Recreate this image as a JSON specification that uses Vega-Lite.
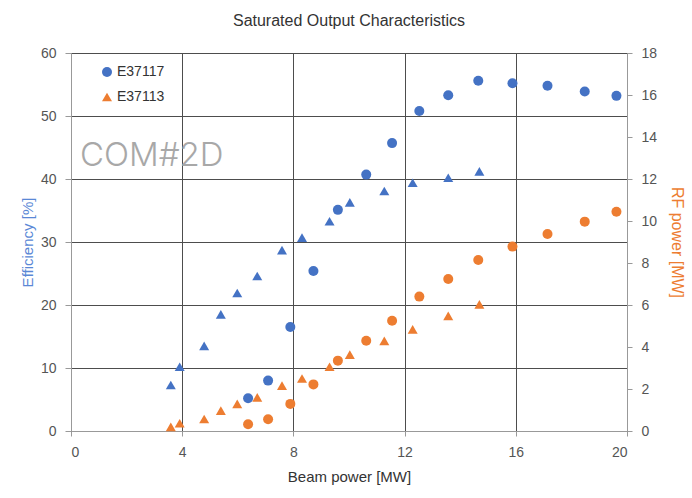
{
  "$schema": "https://vega.github.io/schema/vega-lite/v6.json",
  "width": 556,
  "height": 378,
  "autosize": {"type": "none"},
  "padding": {"left": 71, "top": 53, "right": 65, "bottom": 67},
  "background": "white",
  "title": {"text": "Saturated Output Characteristics", "fontSize": 16, "font": "Liberation Sans", "fontWeight": "normal", "color": "#333333", "offset": 17},
  "config": {
    "view": {"stroke": null},
    "axis": {
      "labelFont": "Liberation Sans",
      "titleFont": "Liberation Sans",
      "labelFontSize": 14,
      "labelColor": "#555555",
      "titleFontWeight": "normal",
      "titleFontSize": 15,
      "gridColor": "#4d4d4d",
      "gridOpacity": 1,
      "gridWidth": 1,
      "domainColor": "#999999",
      "tickColor": "#999999",
      "tickSize": 5,
      "labelPadding": 9
    },
    "legend": {
      "labelFont": "Liberation Sans",
      "labelFontSize": 14,
      "labelColor": "#333333",
      "symbolSize": 100,
      "labelOffset": 3,
      "symbolStrokeWidth": 0
    }
  },
  "datasets": {
    "points": [
      {"series": "E37113", "beam": 3.59, "efficiency": 7.3, "rf": 0.2},
      {"series": "E37113", "beam": 3.91, "efficiency": 10.2, "rf": 0.37},
      {"series": "E37113", "beam": 4.79, "efficiency": 13.5, "rf": 0.57},
      {"series": "E37113", "beam": 5.39, "efficiency": 18.5, "rf": 0.97},
      {"series": "E37113", "beam": 5.98, "efficiency": 21.9, "rf": 1.29},
      {"series": "E37113", "beam": 6.7, "efficiency": 24.6, "rf": 1.6},
      {"series": "E37113", "beam": 7.59, "efficiency": 28.7, "rf": 2.16},
      {"series": "E37113", "beam": 8.31, "efficiency": 30.7, "rf": 2.5},
      {"series": "E37113", "beam": 9.3, "efficiency": 33.3, "rf": 3.06},
      {"series": "E37113", "beam": 10.03, "efficiency": 36.3, "rf": 3.64},
      {"series": "E37113", "beam": 11.27, "efficiency": 38.1, "rf": 4.29},
      {"series": "E37113", "beam": 12.29, "efficiency": 39.4, "rf": 4.84},
      {"series": "E37113", "beam": 13.57, "efficiency": 40.2, "rf": 5.48},
      {"series": "E37113", "beam": 14.69, "efficiency": 41.2, "rf": 6.03},
      {"series": "E37117", "beam": 6.37, "efficiency": 5.2, "rf": 0.32},
      {"series": "E37117", "beam": 7.09, "efficiency": 8.0, "rf": 0.56},
      {"series": "E37117", "beam": 7.89, "efficiency": 16.5, "rf": 1.29},
      {"series": "E37117", "beam": 8.72, "efficiency": 25.4, "rf": 2.22},
      {"series": "E37117", "beam": 9.6, "efficiency": 35.1, "rf": 3.35},
      {"series": "E37117", "beam": 10.62, "efficiency": 40.7, "rf": 4.3},
      {"series": "E37117", "beam": 11.55, "efficiency": 45.7, "rf": 5.25},
      {"series": "E37117", "beam": 12.53, "efficiency": 50.8, "rf": 6.4},
      {"series": "E37117", "beam": 13.57, "efficiency": 53.3, "rf": 7.24},
      {"series": "E37117", "beam": 14.65, "efficiency": 55.6, "rf": 8.14},
      {"series": "E37117", "beam": 15.88, "efficiency": 55.2, "rf": 8.78},
      {"series": "E37117", "beam": 17.14, "efficiency": 54.8, "rf": 9.38},
      {"series": "E37117", "beam": 18.48, "efficiency": 53.9, "rf": 9.97},
      {"series": "E37117", "beam": 19.62, "efficiency": 53.2, "rf": 10.44}
    ],
    "notes": [{"label": "COM#2D"}]
  },
  "data": {"name": "points"},
  "layer": [
    {
      "layer": [
        {
          "mark": {"type": "point", "filled": true, "size": 100, "opacity": 1, "color": "#4472C4"},
          "encoding": {
            "x": {
              "field": "beam", "type": "quantitative",
              "scale": {"domain": [0, 20]},
              "axis": {"values": [0, 4, 8, 12, 16, 20], "title": "Beam power [MW]", "titleColor": "#333333", "titlePadding": 10}
            },
            "y": {
              "field": "efficiency", "type": "quantitative",
              "scale": {"domain": [0, 60]},
              "axis": {"values": [0, 10, 20, 30, 40, 50, 60], "title": "Efficiency [%]", "titleColor": "#5a88d6", "titlePadding": 5, "tickSize": 6}
            },
            "shape": {
              "field": "series", "type": "nominal",
              "scale": {"domain": ["E37117", "E37113"], "range": ["circle", "triangle-up"]},
              "legend": {
                "orient": "none", "legendX": 29, "legendY": 12,
                "title": null,
                "values": ["E37117"],
                "symbolFillColor": "#4472C4"
              }
            }
          }
        },
        {
          "data": {"name": "notes"},
          "mark": {"type": "text", "font": "Inter", "fontSize": 33, "fontWeight": 300, "color": "#a8a8a8", "align": "left", "baseline": "middle"},
          "encoding": {
            "x": {"datum": 0.32},
            "y": {"datum": 43.6},
            "text": {"field": "label", "type": "nominal"}
          }
        }
      ]
    },
    {
      "mark": {"type": "point", "filled": true, "size": 100, "opacity": 1, "color": "#ED7D31"},
      "encoding": {
        "x": {"field": "beam", "type": "quantitative"},
        "y": {
          "field": "rf", "type": "quantitative",
          "scale": {"domain": [0, 18]},
          "axis": {"orient": "right", "values": [0, 2, 4, 6, 8, 10, 12, 14, 16, 18], "grid": false, "title": "RF power [MW]", "titleColor": "#ED7D31", "titleFontSize": 16, "titlePadding": 12}
        },
        "shape": {
          "field": "series", "type": "nominal",
          "legend": {
            "orient": "none", "legendX": 29, "legendY": 37,
            "title": null,
            "values": ["E37113"],
            "symbolFillColor": "#ED7D31"
          }
        }
      }
    }
  ],
  "resolve": {"scale": {"y": "independent"}, "legend": {"shape": "independent"}}
}
